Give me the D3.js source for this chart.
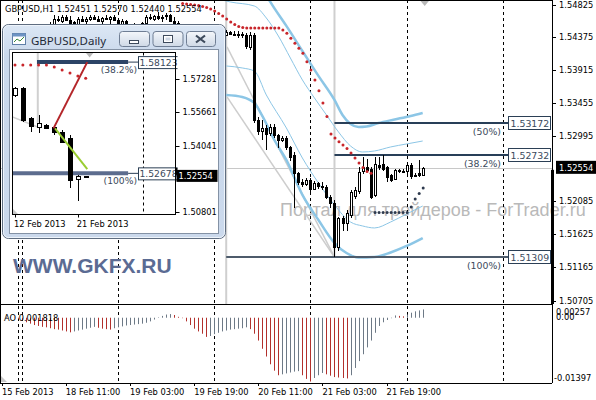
<!DOCTYPE html>
<html>
<head>
<meta charset="utf-8">
<script src="https://cdn.jsdelivr.net/npm/d3@7"></script>
<style>
body { margin: 0; background: #fff; }
svg { display: block; }
</style>
</head>
<body>
<div id="chart"></div>
<script>
// ---- H1 chart data (bar index 0 = 18 Feb 00:00) ----
const h1First = 7;
// [open, high, low, close]
const h1Bars = [
  [1.5455,1.5459,1.5448,1.5452],[1.5452,1.5468,1.5450,1.5463],[1.5463,1.5467,1.5458,1.5461],
  [1.5461,1.5469,1.5457,1.5466],[1.5466,1.5468,1.5460,1.5462],[1.5462,1.5467,1.5455,1.5458],
  [1.5458,1.5460,1.5447,1.5450],[1.5450,1.5466,1.5448,1.5463],[1.5463,1.5467,1.5459,1.5460],
  [1.5460,1.5465,1.5456,1.5463],[1.5463,1.5468,1.5460,1.5466],[1.5466,1.5469,1.5461,1.5463],
  [1.5463,1.5467,1.5458,1.5460],[1.5460,1.5466,1.5455,1.5464],[1.5464,1.5468,1.5461,1.5462],
  [1.5462,1.5467,1.5456,1.5465],[1.5465,1.5469,1.5460,1.5461],[1.5461,1.5464,1.5452,1.5455],
  [1.5455,1.5463,1.5451,1.5460],[1.5460,1.5461,1.5446,1.5449],[1.5449,1.5455,1.5441,1.5452],
  [1.5452,1.5457,1.5445,1.5447],[1.5447,1.5454,1.5443,1.5451],[1.5451,1.5459,1.5449,1.5457],
  [1.5457,1.5468,1.5455,1.5465],[1.5465,1.5470,1.5461,1.5463],[1.5463,1.5469,1.5460,1.5467],
  [1.5467,1.5472,1.5462,1.5464],[1.5464,1.5469,1.5459,1.5466],[1.5466,1.5471,1.5462,1.5468],
  [1.5468,1.5470,1.5458,1.5460],[1.5460,1.5466,1.5455,1.5457],[1.5457,1.5460,1.5446,1.5449],
  [1.5449,1.5453,1.5440,1.5444],[1.5444,1.5451,1.5439,1.5447],[1.5447,1.5452,1.5441,1.5443],
  [1.5443,1.5449,1.5436,1.5440],[1.5440,1.5447,1.5437,1.5445],[1.5445,1.5450,1.5440,1.5442],
  [1.5442,1.5448,1.5438,1.5446],[1.5446,1.5451,1.5442,1.5444],[1.5444,1.5449,1.5439,1.5441],
  [1.5441,1.5447,1.5437,1.5443],[1.5443,1.5448,1.5439,1.5441],[1.5441,1.5447,1.5439,1.5445],
  [1.5445,1.5446,1.5440,1.5442],[1.5442,1.5446,1.5439,1.5441],[1.5441,1.5446,1.5437,1.5442],
  [1.5442,1.5445,1.5436,1.5440],[1.5440,1.5443,1.5421,1.5424],[1.5424,1.5445,1.5419,1.5441],
  [1.5441,1.5444,1.5318,1.5322],[1.5322,1.5326,1.5301,1.5307],[1.5307,1.5322,1.5294,1.5311],
  [1.5311,1.5315,1.5280,1.5303],[1.5303,1.5316,1.5300,1.5312],[1.5312,1.5316,1.5297,1.5301],
  [1.5301,1.5303,1.5283,1.5294],[1.5294,1.5300,1.5291,1.5297],[1.5297,1.5300,1.5280,1.5284],
  [1.5284,1.5286,1.5265,1.5270],[1.5273,1.5278,1.5199,1.5248],[1.5248,1.5250,1.5232,1.5235],
  [1.5235,1.5240,1.5229,1.5232],[1.5232,1.5241,1.5230,1.5238],[1.5238,1.5241,1.5222,1.5226],
  [1.5226,1.5237,1.5224,1.5234],[1.5234,1.5236,1.5226,1.5230],[1.5230,1.5235,1.5225,1.5229],
  [1.5229,1.5232,1.5212,1.5215],[1.5215,1.5217,1.5200,1.5206],[1.5206,1.5210,1.51309,1.5145],
  [1.5145,1.5187,1.5140,1.5185],[1.5185,1.5188,1.5168,1.5178],[1.5178,1.5196,1.5168,1.5192],
  [1.5190,1.5225,1.5186,1.5222],[1.5215,1.5229,1.5212,1.5224],[1.5222,1.5256,1.5219,1.5249],
  [1.5250,1.5270,1.5247,1.5256],[1.5256,1.5268,1.5250,1.5252],[1.5254,1.5257,1.5212,1.5215],
  [1.5218,1.5270,1.5215,1.5261],[1.5259,1.5270,1.5252,1.5256],[1.5261,1.5273,1.5251,1.5254],
  [1.5256,1.5258,1.5236,1.5242],[1.5245,1.5247,1.5235,1.5238],[1.5240,1.5254,1.5238,1.5252],
  [1.5252,1.5254,1.5248,1.5250],[1.5251,1.5254,1.5248,1.5251],[1.5250,1.5262,1.5244,1.5259],
  [1.5259,1.5262,1.5240,1.5243],[1.5246,1.5248,1.5242,1.5244],[1.5248,1.5266,1.5243,1.5245],
  [1.52451,1.52570,1.52440,1.52554]
];

// parabolic SAR
const sarAboveFirst = 40;
const sarAbove = [1.54845,1.54838,1.54831,1.54824,1.54817,1.54803,1.54789,1.54769,1.54741,1.54706,
  1.54671,1.54629,1.54587,1.54552,1.54525,1.54511,1.54504,1.54504,1.54504,1.54504,1.54504,1.54504,
  1.54504,1.54504,1.54504,1.54476,1.54430,1.54360,1.54290,1.54221,1.54151,1.54034,1.53918,1.53779,
  1.53630,1.53458,1.53270,1.53026,1.52970,1.52919,1.52873,1.52824,1.52761,1.52692,1.52622,1.52559,
  1.52503,1.52478];
const sarBelowFirst = 88;
const sarBelow = [1.51932,1.51932,1.51932,1.51932,1.51932,1.51932,1.51932,1.51932,1.51932,
  1.52008,1.52120,1.52197,1.52273];

// channel lines, [bar index, price]
const outerUpper = [[60,1.55061],[62,1.54866],[66,1.54532],[70,1.54183],[74,1.53835],[78,1.53500],
  [80,1.53291],[82,1.53165],[84,1.53124],[86,1.53131],[89,1.53179],[93,1.53228],[97,1.53277],[100,1.53319]];
const innerUpper = [[48,1.54922],[52,1.54866],[58,1.54810],[61,1.54643],[64,1.54392],[67,1.54085],
  [70,1.53779],[73,1.53528],[76,1.53291],[79,1.53054],[82,1.52859],[85,1.52775],[88,1.52789],
  [92,1.52845],[96,1.52887],[100,1.52928]];
const innerLower = [[51,1.53974],[55,1.53946],[58,1.53904],[61,1.53570],[66,1.53110],[70,1.52691],
  [74,1.52343],[78,1.52036],[82,1.51799],[85,1.51744],[88,1.51716],[92,1.51799],[96,1.51911],[100,1.52022]];
const outerLower = [[51,1.53570],[55,1.53542],[58,1.53458],[60,1.53277],[63,1.52942],[66,1.52664],
  [70,1.52176],[74,1.51827],[78,1.51506],[81,1.51367],[84,1.51304],[88,1.51311],[92,1.51374],
  [96,1.51465],[100,1.51576]];

// fibonacci object
const fiboTrend = [[[51.2,1.53542],[78,1.51309]], [[51.2,1.54239],[78,1.51309]]];
const fiboHighIdx = 51;
const fiboLowIdx = 78;
const fiboLowPrice = 1.51309;
const fiboEndIdx = 121.5;
const fiboLevels = [
  {label: "(100%)", price: 1.51309, from: 51},
  {label: "(50%)", price: 1.53172, from: 78},
  {label: "(38.2%)", price: 1.52732, from: 78}
];

const bidPrice = 1.52554;
const separatorIdx = [-1, 0, 24, 48, 72, 96, 120];
const timeIdx = [-5, 11, 27, 43, 59, 75, 91];
const timeText = ["15 Feb 2013","18 Feb 11:00","19 Feb 03:00","19 Feb 19:00","20 Feb 11:00","21 Feb 03:00","21 Feb 19:00"];
const priceTicks = [1.54825,1.54375,1.53915,1.53455,1.52995,1.52085,1.51625,1.51165,1.50705];

// Awesome oscillator
const aoFirst = -4;
const aoValues = [0.0002,0.0001,-0.0001,-0.0003,-0.0006,-0.0010,-0.0013,-0.0016,-0.0018,-0.0020,
  -0.0021,-0.0023,-0.0025,-0.0026,-0.0028,-0.0030,-0.0032,-0.0030,-0.0028,-0.0026,-0.0024,-0.0022,
  -0.0020,-0.0022,-0.0024,-0.0025,-0.0026,-0.0023,-0.0021,-0.0019,-0.0017,-0.0016,-0.0015,-0.0014,
  -0.0013,-0.0011,-0.0008,-0.0004,0.0001,0.0004,0.0007,0.0008,0.0006,0.0002,-0.0001,-0.0008,-0.0016,
  -0.0024,-0.0030,-0.0035,-0.0042,-0.0040,-0.0036,-0.0033,-0.0030,-0.0028,-0.0026,-0.0025,-0.0024,
  -0.0023,-0.0021,-0.0025,-0.0035,-0.0050,-0.0068,-0.0085,-0.0102,-0.0116,-0.0126,-0.0124,-0.0122,
  -0.0120,-0.0118,-0.0117,-0.0126,-0.0134,-0.01397,-0.0132,-0.0126,-0.0121,-0.0124,-0.0127,-0.0130,
  -0.0131,-0.0132,-0.0133,-0.0126,-0.0110,-0.0095,-0.0080,-0.0065,-0.0050,-0.0033,-0.0018,-0.0010,
  -0.0005,-0.0001,0.0005,0.0004,0.0003,0.0007,0.0011,0.0014,0.0016,0.001818];
const aoMax = 0.00257, aoMin = -0.01397;

// ---- Daily inset data (index 0 = 12 Feb) ----
const dailyBars = [
  [1.5651,1.5690,1.5640,1.5684],[1.5684,1.5692,1.5521,1.5529],[1.5537,1.5545,1.5472,1.5496],
  [1.5496,1.5554,1.5464,1.5516],[1.5505,1.5508,1.5486,1.5489],[1.5496,1.5505,1.5456,1.5472],
  [1.5472,1.5480,1.5415,1.5423],[1.5440,1.5456,1.5195,1.5236],[1.5239,1.5260,1.5131,1.5255],
  [1.5250,1.5257,1.5244,1.52554]
];
const dailySar = [1.5798,1.5798,1.5798,1.5798,1.5798,1.5788,1.5774,1.5759,1.5744,1.5733];
const dailyTicks = [1.57281,1.55661,1.54041,1.50801];
const dailyTimeIdx = [0, 8];
const dailyTimeText = ["12 Feb 2013","21 Feb 2013"];
const dailyFibo = [
  {label: "(38.2%)", price: 1.58123, from: 2.8, color: "#2c4466"},
  {label: "(100%)", price: 1.52678, from: -0.4, color: "#5c6c8e"}
];
const dailyFiboEnd = 14.4;
const dailyRedLine = [[4.9,1.5488],[9.2,1.58123]];
const dailyGreenLine = [[5.1,1.5488],[9.2,1.5288]];
const dailyGrayLine = [[-0.4,1.5545],[2.8,1.5496]];
const dailyGrayVert = {idx: 2.9, price: 1.5516};
const dailySeparator = 16.3;

// ---- layout ----
const W = 596, H = 400;
const plotR = 552, mainB = 304, aoB = 383;
const mono = '"DejaVu Sans", sans-serif';

const svg = d3.select('#chart').append('svg').attr('width', W).attr('height', H)
  .style('font-family', mono);
svg.append('rect').attr('width', W).attr('height', H).attr('fill', '#fff');

const x = d3.scaleLinear().domain([0, 100]).range([21.7, 422.7]);
const y = d3.scaleLinear().domain([1.50705, 1.54825]).range([300.5, 4.9]);
const yAo = d3.scaleLinear().domain([aoMin, aoMax]).range([381.5, 306]);
const px = v => Math.round(v) + 0.5;

const defs = svg.append('defs');
defs.append('clipPath').attr('id', 'mainClip').append('rect')
  .attr('x', 0).attr('y', 0).attr('width', plotR).attr('height', mainB);
defs.append('clipPath').attr('id', 'aoClip').append('rect')
  .attr('x', 0).attr('y', mainB).attr('width', plotR).attr('height', aoB - mainB);

// watermark (behind marks, runs over the price scale)
svg.append('text').attr('x', 280).attr('y', 216)
  .style('font-family', '"Liberation Sans", Arial, sans-serif').style('font-size', '18px')
  .attr('fill', '#b9b9b9').text('Портал для трейдеров - ForTrader.ru');

// separators through both panes
svg.append('g').selectAll('line').data(separatorIdx).enter().append('line')
  .attr('x1', d => px(x(d))).attr('x2', d => px(x(d)))
  .attr('y1', 0).attr('y2', aoB)
  .attr('stroke', '#000').attr('stroke-dasharray', '3,3');

const main = svg.append('g').attr('clip-path', 'url(#mainClip)');

// bid line
main.append('line').attr('x1', 0).attr('x2', plotR)
  .attr('y1', px(y(bidPrice))).attr('y2', px(y(bidPrice)))
  .attr('stroke', '#c8c8c8');

// fibo verticals
main.append('line').attr('x1', x(fiboHighIdx)).attr('x2', x(fiboHighIdx))
  .attr('y1', 0).attr('y2', mainB).attr('stroke', '#cfcfcf').attr('stroke-width', 2);
main.append('line').attr('x1', x(fiboLowIdx)).attr('x2', x(fiboLowIdx))
  .attr('y1', 0).attr('y2', y(fiboLowPrice)).attr('stroke', '#cfcfcf').attr('stroke-width', 2);

// fibo diagonals
const lineGen = d3.line().x(d => x(d[0])).y(d => y(d[1]));
main.selectAll('path.ft').data(fiboTrend).enter().append('path')
  .attr('d', lineGen).attr('fill', 'none').attr('stroke', '#cdcdcd').attr('stroke-width', 1.5);

// channels
const curveGen = d3.line().x(d => x(d[0])).y(d => y(d[1])).curve(d3.curveMonotoneX);
[[outerUpper, 2.5], [outerLower, 2.5], [innerUpper, 1], [innerLower, 1]].forEach(([band, w]) => {
  main.append('path').attr('d', curveGen(band)).attr('fill', 'none')
    .attr('stroke', '#8cc6e6').attr('stroke-width', w);
});

// fibo levels
main.selectAll('line.fl').data(fiboLevels).enter().append('line')
  .attr('x1', d => x(d.from)).attr('x2', x(fiboEndIdx))
  .attr('y1', d => Math.round(y(d.price))).attr('y2', d => Math.round(y(d.price)))
  .attr('stroke', d => d.from === fiboHighIdx ? '#4d5b6b' : '#283f58').attr('stroke-width', 2);

// candles
function drawCandles(g, rows, xs, ys, first, half) {
  const c = g.append('g').attr('shape-rendering', 'crispEdges')
    .selectAll('g').data(rows).enter().append('g');
  c.append('line')
    .attr('x1', (d, j) => px(xs(first + j))).attr('x2', (d, j) => px(xs(first + j)))
    .attr('y1', d => ys(d[1])).attr('y2', d => ys(d[2])).attr('stroke', '#000');
  c.append('rect')
    .attr('x', (d, j) => Math.round(xs(first + j)) - half + 0.5)
    .attr('width', half * 2)
    .attr('y', d => Math.round(ys(Math.max(d[0], d[3]))) + 0.5)
    .attr('height', d => Math.max(1, Math.round(Math.abs(ys(d[0]) - ys(d[3])))))
    .attr('fill', d => d[3] >= d[0] ? '#fff' : '#000').attr('stroke', '#000');
}
drawCandles(main, h1Bars, x, y, h1First, 1);

// SAR dots
main.selectAll('circle.sa').data(sarAbove).enter().append('circle')
  .attr('cx', (d, j) => x(sarAboveFirst + j) + 0.5).attr('cy', d => y(d)).attr('r', 1.5)
  .attr('fill', '#c8262b');
main.selectAll('circle.sb').data(sarBelow).enter().append('circle')
  .attr('cx', (d, j) => x(sarBelowFirst + j) + 0.5).attr('cy', d => y(d)).attr('r', 1.5)
  .attr('fill', '#2e3a4e');

// chart shift marker
const lastIdx = h1First + h1Bars.length - 1;
main.append('path')
  .attr('d', `M${x(lastIdx) - 3},0 L${x(lastIdx) + 7},0 L${x(lastIdx) + 2},6 Z`)
  .attr('fill', '#b8b8b8');

// AO histogram
const ao = svg.append('g').attr('clip-path', 'url(#aoClip)');
ao.selectAll('line').data(aoValues).enter().append('line')
  .attr('x1', (d, j) => px(x(aoFirst + j))).attr('x2', (d, j) => px(x(aoFirst + j)))
  .attr('y1', yAo(0)).attr('y2', d => yAo(d))
  .attr('stroke', (d, j) => (j === 0 || d >= aoValues[j - 1]) ? '#6d7986' : '#b2302c');
ao.append('path').attr('d', `M1,${aoB - 1} L7,${aoB - 1} L1,${aoB - 7} Z`).attr('fill', '#c8c8c8');

// borders
const frame = svg.append('g').attr('stroke', '#000').attr('shape-rendering', 'crispEdges');
frame.append('line').attr('x1', 0.5).attr('x2', 0.5).attr('y1', 0).attr('y2', aoB);
frame.append('line').attr('x1', 0).attr('x2', plotR).attr('y1', 0.5).attr('y2', 0.5);
frame.append('line').attr('x1', plotR + 0.5).attr('x2', plotR + 0.5).attr('y1', 0).attr('y2', aoB);
frame.append('line').attr('x1', 0).attr('x2', plotR).attr('y1', mainB + 0.5).attr('y2', mainB + 0.5);
frame.append('line').attr('x1', 0).attr('x2', plotR).attr('y1', aoB + 0.5).attr('y2', aoB + 0.5);

// thick bar on the right edge
svg.append('rect').attr('x', plotR - 1).attr('y', y(bidPrice) + 2).attr('width', 3)
  .attr('height', mainB - y(bidPrice) - 2).attr('fill', '#000');

// price axis
const axisFont = '8.3px';
const pa = svg.append('g').style('font-size', axisFont);
pa.selectAll('line').data(priceTicks).enter().append('line')
  .attr('x1', plotR).attr('x2', plotR + 4)
  .attr('y1', d => px(y(d))).attr('y2', d => px(y(d))).attr('stroke', '#000');
pa.selectAll('text').data(priceTicks).enter().append('text')
  .attr('x', plotR + 7).attr('y', d => y(d) + 3).attr('fill', '#000')
  .text(d => d.toFixed(5));
pa.append('rect').attr('x', 556).attr('y', y(bidPrice) - 7).attr('width', 40).attr('height', 13).attr('fill', '#000');
pa.append('text').attr('x', plotR + 7).attr('y', y(bidPrice) + 3).attr('fill', '#fff').text(bidPrice.toFixed(5));

// fibo labels
const fl = svg.append('g').style('font-size', '9.4px').attr('fill', '#3b4a5c');
fiboLevels.forEach(d => {
  const yy = Math.round(y(d.price));
  fl.append('text').attr('x', 501).attr('y', yy + 12).attr('text-anchor', 'end').text(d.label);
  fl.append('rect').attr('x', 508.5).attr('y', yy - 6.5).attr('width', 42).attr('height', 13)
    .attr('fill', '#fff').attr('stroke', '#2b3f55');
  fl.append('text').attr('x', 510.5).attr('y', yy + 4).text(d.price.toFixed(5));
});

// AO labels
const al = svg.append('g').style('font-size', axisFont).attr('fill', '#000');
al.append('text').attr('x', 4).attr('y', 321).text('AO 0.001818');
al.append('text').attr('x', 556).attr('y', yAo(aoMax) + 9).text(aoMax.toFixed(5));
al.append('text').attr('x', 556).attr('y', yAo(0) + 2).text('0.00');
al.append('text').attr('x', 554).attr('y', yAo(aoMin) - 1).text(aoMin.toFixed(5));

// time axis
const ta = svg.append('g').style('font-size', axisFont).attr('fill', '#000');
ta.selectAll('text').data(timeIdx).enter().append('text')
  .attr('x', d => Math.max(2, x(d))).attr('y', 395).text((d, j) => timeText[j]);
ta.selectAll('line').data(timeIdx).enter().append('line')
  .attr('x1', d => px(x(d))).attr('x2', d => px(x(d))).attr('y1', aoB).attr('y2', aoB + 3)
  .attr('stroke', '#000');

// header
svg.append('text').attr('x', 5).attr('y', 12).style('font-size', axisFont).attr('fill', '#000')
  .text('GBPUSD,H1  1.52451 1.52570 1.52440 1.52554');

// GKFX watermark
svg.append('text').attr('x', 13).attr('y', 273)
  .style('font-family', '"Liberation Sans", Arial, sans-serif').style('font-size', '21px')
  .style('font-weight', 'bold').attr('fill', '#5b6b93').text('WWW.GKFX.RU');

// ---- inset window ----
const grad = defs.append('linearGradient').attr('id', 'winGrad').attr('x1', 0).attr('y1', 0).attr('x2', 0).attr('y2', 1);
grad.append('stop').attr('offset', 0).attr('stop-color', '#dce7f5');
grad.append('stop').attr('offset', 0.15).attr('stop-color', '#c9d8eb');
grad.append('stop').attr('offset', 1).attr('stop-color', '#cbd9ec');
const bgrad = defs.append('linearGradient').attr('id', 'btnGrad').attr('x1', 0).attr('y1', 0).attr('x2', 0).attr('y2', 1);
bgrad.append('stop').attr('offset', 0).attr('stop-color', '#f4f7fb');
bgrad.append('stop').attr('offset', 1).attr('stop-color', '#cfd9e6');

const win = svg.append('g');
win.append('rect').attr('x', 2.5).attr('y', 24.5).attr('width', 223).attr('height', 214).attr('rx', 6)
  .attr('fill', 'url(#winGrad)').attr('stroke', '#5f6d80');
win.append('rect').attr('x', 3.5).attr('y', 25.5).attr('width', 221).attr('height', 212).attr('rx', 5)
  .attr('fill', 'none').attr('stroke', '#eef4fb');
// icon
win.append('rect').attr('x', 12.5).attr('y', 33.5).attr('width', 13).attr('height', 11)
  .attr('fill', '#fff').attr('stroke', '#5f7fa8');
win.append('rect').attr('x', 12.5).attr('y', 33.5).attr('width', 13).attr('height', 3).attr('fill', '#6d93c4');
win.append('path').attr('d', 'M14,42 L17,39 L20,41 L24,37').attr('fill', 'none').attr('stroke', '#3c8a3c');
win.append('text').attr('x', 31).attr('y', 44.5)
  .style('font-family', '"Noto Sans", sans-serif').style('font-size', '11.5px').attr('fill', '#1f2a38')
  .text('GBPUSD,Daily');
// buttons
const btnX = [119.5, 153, 186.5];
btnX.forEach((bx, j) => {
  win.append('rect').attr('x', bx).attr('y', 31.5).attr('width', j === 2 ? 29 : 30).attr('height', 15).attr('rx', 3)
    .attr('fill', 'url(#btnGrad)').attr('stroke', '#6f7e94');
});
win.append('rect').attr('x', 129.5).attr('y', 40.5).attr('width', 9).attr('height', 3)
  .attr('fill', '#fff').attr('stroke', '#3d4a5c');
win.append('rect').attr('x', 163.5).attr('y', 35.5).attr('width', 9).attr('height', 7)
  .attr('fill', '#fff').attr('stroke', '#3d4a5c');
win.append('rect').attr('x', 165.5).attr('y', 37.5).attr('width', 5).attr('height', 3)
  .attr('fill', '#cdd6e2').attr('stroke', 'none');
win.append('path').attr('d', 'M196,35.5 L205,42.5 M205,35.5 L196,42.5')
  .attr('stroke', '#3d4a5c').attr('stroke-width', 2.2);
// client area
win.append('rect').attr('x', 9.5).attr('y', 49.5).attr('width', 209).attr('height', 184)
  .attr('fill', '#fff').attr('stroke', '#8492a5');

const ic = {l: 12.5, t: 52.5, r: 175.5, b: 214.5};
const xd = d3.scaleLinear().domain([0, 9]).range([15, 85.7]);
const yd = d3.scaleLinear().domain([1.50801, 1.57281]).range([211.7, 79.3]);
defs.append('clipPath').attr('id', 'insetClip').append('rect')
  .attr('x', ic.l).attr('y', ic.t).attr('width', ic.r - ic.l + 2).attr('height', ic.b - ic.t);
const inset = win.append('g').attr('clip-path', 'url(#insetClip)');

inset.append('line').attr('x1', px(xd(dailySeparator))).attr('x2', px(xd(dailySeparator)))
  .attr('y1', ic.t).attr('y2', ic.b).attr('stroke', '#000').attr('stroke-dasharray', '3,3');
const dLine = d3.line().x(d => xd(d[0])).y(d => yd(d[1]));
inset.append('path').attr('d', dLine(dailyGrayLine)).attr('stroke', '#d0d0d0').attr('stroke-width', 1.5).attr('fill', 'none');
inset.append('line').attr('x1', xd(dailyGrayVert.idx)).attr('x2', xd(dailyGrayVert.idx))
  .attr('y1', ic.t).attr('y2', yd(dailyGrayVert.price)).attr('stroke', '#d0d0d0').attr('stroke-width', 2);
inset.selectAll('line.dfl').data(dailyFibo).enter().append('line')
  .attr('x1', d => xd(d.from)).attr('x2', xd(dailyFiboEnd))
  .attr('y1', d => yd(d.price)).attr('y2', d => yd(d.price))
  .attr('stroke', d => d.color).attr('stroke-width', 4);
inset.selectAll('line.dfc').data(dailyFibo).enter().append('line')
  .attr('x1', xd(dailyFiboEnd)).attr('x2', 138)
  .attr('y1', d => yd(d.price)).attr('y2', d => yd(d.price))
  .attr('stroke', '#2b3f55');
inset.selectAll('circle').data(dailySar).enter().append('circle')
  .attr('cx', (d, j) => xd(j)).attr('cy', d => yd(d)).attr('r', 1.5).attr('fill', '#c8262b');
drawCandles(inset, dailyBars, xd, yd, 0, 2);
inset.append('path').attr('d', dLine(dailyRedLine)).attr('stroke', '#b4262a').attr('stroke-width', 2).attr('fill', 'none');
inset.append('path').attr('d', dLine(dailyGreenLine)).attr('stroke', '#9acd32').attr('stroke-width', 2).attr('fill', 'none');
inset.append('path').attr('d', `M${xd(9.5) - 4},${ic.t} L${xd(9.5) + 4},${ic.t} L${xd(9.5)},${ic.t + 5} Z`).attr('fill', '#b8b8b8');
inset.append('path').attr('d', `M${ic.l},${ic.b} L${ic.l + 6},${ic.b} L${ic.l},${ic.b - 6} Z`).attr('fill', '#c8c8c8');
const dfl = inset.append('g').style('font-size', '9.2px').attr('fill', '#3b4a5c');
dailyFibo.forEach(d => {
  const yy = yd(d.price);
  dfl.append('text').attr('x', 137).attr('y', yy + 11).attr('text-anchor', 'end').text(d.label);
  dfl.append('rect').attr('x', 138.5).attr('y', yy - 5.5).attr('width', 41).attr('height', 12)
    .attr('fill', '#fff').attr('stroke', '#2b3f55');
  dfl.append('text').attr('x', 139.5).attr('y', yy + 4).text(d.price.toFixed(5));
});
win.append('rect').attr('x', ic.l).attr('y', ic.t).attr('width', ic.r - ic.l).attr('height', ic.b - ic.t)
  .attr('fill', 'none').attr('stroke', '#000').attr('shape-rendering', 'crispEdges');
win.append('rect').attr('x', ic.r - 0.5).attr('y', yd(bidPrice) - 8).attr('width', 2.5).attr('height', 7).attr('fill', '#000');

const ia = win.append('g').style('font-size', axisFont).attr('fill', '#000');
ia.selectAll('line').data(dailyTicks).enter().append('line')
  .attr('x1', ic.r).attr('x2', ic.r + 4).attr('y1', d => px(yd(d))).attr('y2', d => px(yd(d))).attr('stroke', '#000');
ia.selectAll('text').data(dailyTicks).enter().append('text')
  .attr('x', ic.r + 7).attr('y', d => yd(d) + 3).text(d => d.toFixed(5));
ia.append('rect').attr('x', ic.r + 1).attr('y', yd(bidPrice) - 6).attr('width', 41).attr('height', 12).attr('fill', '#000');
ia.append('text').attr('x', ic.r + 3).attr('y', yd(bidPrice) + 3).attr('fill', '#fff').text(bidPrice.toFixed(5));
ia.selectAll('text.dt').data(dailyTimeIdx).enter().append('text')
  .attr('x', d => xd(d) - 1).attr('y', 227).text((d, j) => dailyTimeText[j]);
ia.selectAll('line.dt').data(dailyTimeIdx).enter().append('line')
  .attr('x1', d => px(xd(d))).attr('x2', d => px(xd(d))).attr('y1', ic.b).attr('y2', ic.b + 3).attr('stroke', '#000');
</script>
</body>
</html>
